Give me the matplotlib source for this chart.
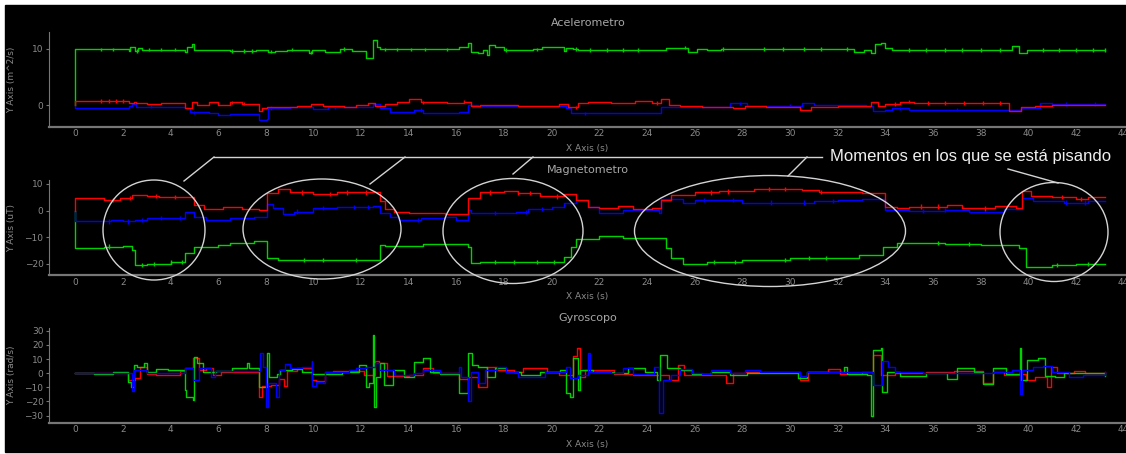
import numpy as np
import matplotlib.pyplot as plt
from matplotlib.patches import Ellipse, Rectangle
from matplotlib.lines import Line2D

# ----------------------
# datos (t [s], valor) -- escalones
# ----------------------
acc_green = [(0, 0), (0, 9.9), (2.24, 9.65), (2.3, 10.35), (2.5, 9.65), (2.65, 10.1), (2.8, 9.85),
             (4.6, 9.5), (4.7, 10.3), (4.9, 10.9), (5.0, 9.8), (6.5, 9.65), (7.6, 9.8), (8.1, 9.5),
             (8.4, 9.65), (8.9, 9.85), (9.8, 9.3), (9.95, 9.75), (10.3, 9.85), (10.5, 9.4), (11.1, 9.95),
             (11.6, 9.7), (12.2, 8.45), (12.5, 11.5), (12.65, 10.35), (12.8, 9.9), (16.1, 10.35),
             (16.5, 11.0), (16.6, 9.5), (16.9, 9.2), (17.1, 9.8), (17.3, 8.9), (17.35, 10.6),
             (17.6, 10.35), (18.0, 9.8), (19.2, 9.9), (19.6, 10.35), (20.5, 9.6), (20.6, 10.2),
             (20.9, 10.0), (21.1, 9.8), (24.6, 9.85), (24.8, 10.2), (25.7, 9.5), (26.1, 9.9),
             (26.5, 9.8), (27.1, 10.0), (32.7, 9.5), (33.1, 9.85), (33.4, 9.2), (33.55, 10.8),
             (33.8, 11.0), (34.0, 10.1), (34.3, 9.8), (39.1, 9.85), (39.3, 10.5), (39.6, 9.35),
             (39.95, 9.8), (43.2, 9.8)]
acc_red = [(0, 0), (0, 0.7), (2.24, 0.4), (2.45, 0.6), (2.55, 0.3), (3.0, 0.2), (3.6, 0.4), (4.6, -0.6),
           (4.9, 0.6), (5.1, 0.1), (5.6, 0.5), (6.0, 0.1), (6.5, 0.5), (7.0, 0.25), (7.7, -1.0),
           (7.85, -0.6), (8.05, -0.4), (8.5, -0.3), (9.3, -0.1), (9.9, 0.2), (10.4, -0.2), (10.9, -0.1),
           (11.3, -0.3), (11.8, 0.1), (12.3, 0.4), (12.6, -0.2), (13.0, 0.2), (13.5, 0.5), (14.0, 1.0),
           (14.5, 0.5), (15.0, 0.6), (15.6, 0.3), (16.3, 0.6), (16.6, -0.1), (17.0, 0.1), (17.6, 0.0),
           (18.6, -0.1), (20.3, 0.2), (20.7, -0.4), (21.1, 0.3), (21.5, 0.6), (22.5, 0.4), (23.5, 0.8),
           (24.2, 0.4), (24.6, 1.0), (24.9, 0.0), (25.4, -0.2), (26.3, -0.3), (27.6, -0.6), (28.1, -0.2),
           (29.0, -0.3), (30.4, -0.8), (30.9, -0.3), (32.0, -0.2), (33.0, -0.2), (33.4, 0.6),
           (33.7, -0.2), (34.0, 0.2), (34.6, 0.6), (35.2, 0.3), (35.5, 0.4), (39.2, -1.0), (39.7, -0.4),
           (40.3, -0.2), (41.0, 0.0), (41.8, 0.1), (43.2, 0.1)]
acc_blue = [(0, 0), (0, -0.5), (2.24, -0.2), (2.4, 0.2), (2.55, -0.3), (4.6, -0.5), (4.8, -1.3),
            (5.6, -1.5), (6.0, -1.8), (6.5, -1.6), (7.7, -2.6), (8.05, -2.4), (8.1, -0.5), (9.0, -0.3),
            (10.0, -0.7), (10.6, -0.4), (11.6, -0.3), (12.5, 0.2), (12.8, -0.6), (13.2, -1.2),
            (14.2, -0.9), (14.6, -1.35), (16.1, -1.2), (16.5, 0.0), (16.9, -0.2), (20.6, -0.6),
            (20.8, -1.5), (21.5, -1.4), (24.6, -0.3), (26.0, -0.3), (27.5, 0.3), (28.2, -0.1),
            (30.5, 0.3), (31.0, 0.0), (33.2, -0.2), (33.5, -1.1), (34.0, -0.8), (34.3, -0.6),
            (35.0, -0.8), (39.4, -0.9), (39.7, -0.5), (40.5, 0.4), (41.0, 0.2), (43.2, 0.2)]

mag_red = [(0, 0), (0, 4.9), (1.2, 4.0), (1.9, 4.7), (2.4, 5.9), (3.0, 5.5), (3.5, 5.2), (4.0, 5.0),
           (5.0, 2.2), (5.4, 0.5), (6.2, 1.3), (7.0, 0.5), (7.7, 0.3), (8.05, 6.6), (8.5, 8.1),
           (9.0, 6.8), (10.0, 6.3), (11.0, 6.8), (12.8, 3.5), (13.0, 0.5), (13.4, -0.5), (14.0, -0.8),
           (15.0, -1.0), (15.5, -1.5), (16.5, 4.7), (17.0, 6.8), (18.0, 7.2), (18.6, 6.5), (19.5, 5.3),
           (20.5, 6.2), (21.0, 4.0), (21.5, 1.3), (22.0, 0.8), (22.8, 1.6), (23.4, 0.5), (24.2, 0.8),
           (24.6, 4.0), (25.0, 5.9), (26.0, 6.8), (27.0, 7.2), (28.5, 8.1), (30.5, 7.6), (31.2, 7.0),
           (32.0, 6.8), (33.0, 6.5), (34.0, 1.5), (34.5, 0.8), (35.0, 1.5), (36.6, 2.0), (37.2, 1.0),
           (38.0, 0.8), (38.6, 1.6), (39.5, 1.0), (39.75, 7.5), (40.1, 5.3), (41.0, 5.0), (42.0, 4.2),
           (42.5, 5.2), (43.2, 5.2)]
mag_blue = [(0, 0), (0, -4.1), (1.5, -3.5), (2.0, -4.1), (2.5, -3.5), (3.0, -2.9), (4.6, -0.4),
            (5.0, -2.3), (5.5, -3.5), (6.5, -3.0), (7.5, -2.4), (8.05, 2.4), (8.3, 0.9), (8.7, -1.2),
            (9.2, -0.4), (10.0, 0.9), (11.0, 1.3), (12.5, 1.6), (12.8, -1.0), (13.2, -2.5),
            (13.6, -3.5), (14.5, -3.0), (15.5, -2.5), (16.0, -3.5), (16.5, 0.3), (16.6, -1.0),
            (18.5, -0.5), (19.0, 0.5), (20.0, 1.3), (20.5, 2.8), (21.0, 4.0), (21.5, 1.3), (22.0, -1.0),
            (23.0, 0.3), (24.5, -1.0), (24.6, 4.3), (25.5, 2.8), (26.0, 4.0), (28.0, 3.0), (30.0, 3.0),
            (31.0, 3.6), (32.0, 3.8), (33.0, 4.3), (34.0, 0.3), (35.0, -0.2), (36.5, 0.3), (37.5, -0.4),
            (39.0, 0.5), (39.75, 4.7), (40.2, 3.4), (41.5, 3.0), (42.5, 3.6), (43.2, 3.4)]
mag_green = [(0, 0), (0, -14.2), (1.2, -13.6), (2.0, -13.2), (2.4, -14.8), (2.5, -20.5), (3.0, -20.2),
             (4.0, -19.3), (4.6, -16.1), (5.0, -13.6), (6.0, -12.9), (6.5, -12.3), (7.5, -11.3),
             (8.05, -18.0), (8.5, -18.5), (9.0, -18.6), (12.8, -12.9), (13.0, -13.2), (14.6, -12.5),
             (15.8, -12.8), (16.5, -13.6), (16.6, -19.9), (17.0, -19.3), (18.0, -19.5), (20.0, -19.3),
             (20.5, -17.4), (20.8, -13.6), (21.0, -10.8), (22.0, -9.5), (23.0, -10.4), (24.8, -14.2),
             (25.0, -18.0), (25.5, -20.2), (26.5, -19.5), (28.0, -18.6), (30.0, -18.0), (32.9, -16.6),
             (33.9, -13.6), (34.5, -12.3), (36.5, -12.6), (38.0, -13.0), (39.6, -14.2), (39.9, -21.1),
             (41.0, -20.5), (42.0, -20.2), (43.2, -20.0)]

gyr_blue = [(0, 0), (2.24, 0), (2.4, -12.5), (2.45, 2), (2.8, 2), (3.0, 0), (4.6, 3.5), (4.95, -5),
            (5.2, 3.5), (5.7, -2.4), (5.85, 1.6), (7.76, 14), (7.9, 4.7), (8.0, -24), (8.1, -7),
            (8.43, -16.5), (8.55, 2.4), (8.8, 6.4), (9.0, 3.5), (9.5, 4.7), (9.93, 8.3), (9.95, -9),
            (10.1, -6), (10.4, -6.6), (10.5, 1.2), (11.5, 2.4), (11.8, 4), (12.2, 4.7), (12.6, 7),
            (12.75, 2.4), (13.4, -1), (14.2, 0), (14.6, 2.4), (15.3, 0.5), (16.1, 4.7), (16.2, -2.8),
            (16.5, -20), (16.6, 1.2), (16.9, -7), (17.2, 2.4), (17.7, 4.7), (18.1, 1.2), (18.6, -2.4),
            (19.7, 1.2), (20.6, 4.7), (20.75, -3.5), (21.1, -1), (21.5, 14), (21.6, 1.2), (22.5, 0),
            (23.0, 3.5), (23.4, -0.5), (24.3, 4.7), (24.5, -28), (24.65, -4.7), (25.0, -1), (25.4, 2.8),
            (25.9, 0.5), (26.3, -0.5), (26.7, 2), (27.5, 0), (28.1, 2), (28.75, 1.2), (30.4, -2),
            (30.7, 1.2), (33.5, -8), (33.85, 8.3), (34.1, 4.7), (34.4, 1.2), (35.6, 0), (37.0, 0.5),
            (38.5, 1.2), (39.3, 2.4), (39.65, -15), (39.75, 2.4), (40.2, 4.7), (40.6, 5), (41.0, 1.2),
            (41.7, -2.4), (42.3, -1.2), (43.2, 1.2)]
gyr_red = [(0, 0), (2.2, -4.7), (2.5, -3.5), (2.7, 4.7), (3.0, -0.5), (3.4, -1.2), (4.4, 1.9),
           (4.6, 3.5), (4.96, 11), (5.2, 2.4), (5.5, 4), (5.8, -1), (6.1, 1.2), (7.7, -16.5),
           (7.85, -9), (8.2, -8.5), (8.55, -3.8), (8.75, -9), (8.9, 1.6), (9.3, 3.5), (9.93, -4.7),
           (10.1, -5.4), (10.5, 1.2), (10.8, 1.6), (12.1, -1), (12.6, 8.7), (12.75, 7), (13.1, -2),
           (14.0, -1.2), (14.6, 3.5), (15.0, 0.5), (16.1, -4), (16.5, -2.4), (16.9, -10), (17.3, 4.7),
           (17.7, 2.4), (18.4, 1.2), (18.8, 3.5), (19.8, 1.2), (20.3, -1.2), (20.9, 12), (21.05, 17.7),
           (21.2, -2.4), (21.4, 2.4), (22.6, -0.5), (23.4, -1.2), (24.5, -1.2), (24.9, -4.7), (25.3, 6),
           (25.55, -1), (27.3, -7), (27.6, 0), (28.1, 1.2), (30.4, -4.7), (30.75, 1.2), (31.6, 2.8),
           (32.1, -0.5), (33.0, 1.2), (33.5, 13), (33.8, -1), (34.4, 0.5), (35.7, 1.2), (36.9, 1.6),
           (38.1, -7), (38.5, 1.2), (39.0, -1.2), (39.6, -0.5), (39.9, -4.7), (40.3, -2.4), (40.8, -9.5),
           (40.95, 4.7), (41.2, 0.5), (41.9, 1.9), (42.4, 0), (43.2, 1.2)]
gyr_green = [(0, 0), (0.8, -0.5), (1.6, 0.7), (2.2, -6), (2.35, -9.5), (2.45, 6), (2.6, 4.7),
             (2.87, 7), (3.0, 1.2), (3.4, 2.8), (3.9, 2), (4.6, -12), (4.65, -16.5), (4.96, -19),
             (4.98, 11.8), (5.1, 7), (5.35, 1.2), (5.9, 1.6), (6.6, 3.5), (7.2, 7), (7.3, 3.5),
             (7.7, -9.5), (8.04, 14), (8.15, -2.4), (8.45, -0.5), (8.6, 2.4), (9.1, 2.8), (9.5, 1.2),
             (9.93, -0.5), (10.9, -0.5), (11.2, 1.2), (11.9, 6), (12.2, -9.5), (12.35, -7), (12.5, 27),
             (12.52, -24), (12.62, -2.4), (12.8, 7), (12.95, -8), (13.35, 2), (13.8, -2.4), (14.2, 8),
             (14.6, 10.6), (14.9, 1.2), (15.3, -0.5), (16.1, -14), (16.5, 14), (16.65, 6), (16.9, 4.7),
             (17.3, -2.4), (17.6, 3.5), (18.1, 1.2), (18.7, -1.2), (19.5, 1.2), (20.35, 2.4),
             (20.6, -14), (20.75, -16.5), (20.9, 10.6), (21.1, -12), (21.2, 2.4), (21.75, 1.2),
             (22.6, 0), (23.2, 3.5), (23.9, 1.2), (24.4, -4.7), (24.55, 13), (24.85, 3.5), (25.4, 2.4),
             (25.9, -0.5), (26.7, 1.2), (27.5, -1.2), (28.2, 0), (30.35, -3.5), (30.7, 1.2),
             (32.25, 4.7), (32.4, -0.5), (33.25, -1.2), (33.4, -30), (33.5, 16.5), (33.8, 18),
             (33.85, -13), (34.05, 1.2), (34.6, -1.9), (35.7, 0), (36.6, -4.3), (37.0, 3.5), (37.7, 1.2),
             (38.1, -7.6), (38.5, 3.5), (39.05, -0.5), (39.65, 17.7), (39.7, -4.7), (39.95, 9.5),
             (40.4, 10.6), (40.7, -1.9), (41.1, -2.8), (41.5, 0), (43.2, -1.9)]

# marcas cortas (muestras sueltas) sobre las lineas
acc_green_ticks = [1.1, 1.6, 2.6, 3.1, 3.6, 4.2, 6.6, 7.1, 7.4, 8.2, 9.1, 9.9, 11.3, 13.0, 13.5, 14.1,
                   14.7, 15.6, 18.1, 19.4, 21.0, 21.6, 22.3, 23.0, 23.6, 25.6, 27.2, 28.9, 29.7, 30.6,
                   31.3, 32.4, 35.0, 35.7, 36.5, 37.2, 38.0, 38.8, 40.6, 41.3, 42.0, 42.7, 43.2]
acc_red_ticks = [1.1, 1.4, 1.7, 2.0, 6.6, 7.1, 14.6, 16.3, 21.0, 24.4, 34.4, 35.0, 35.8, 36.5, 37.3,
                 38.1, 38.8]
acc_blue_ticks = [3.2, 5.0, 8.2, 10.9, 14.5, 21.4, 27.9, 30.0, 34.6, 37.0, 41.6, 42.8]
mag_red_ticks = [1.6, 2.3, 3.4, 4.2, 9.5, 10.7, 11.4, 12.2, 17.4, 18.6, 19.1, 20.2, 26.7, 27.4, 29.1,
                 29.8, 31.3, 35.5, 36.2, 38.2, 41.4, 42.2]
mag_blue_ticks = [1.4, 2.2, 2.8, 3.6, 4.4, 9.3, 10.4, 11.7, 12.3, 14.4, 17.6, 18.9, 19.6, 26.4, 27.6,
                  29.2, 30.6, 31.8, 35.6, 36.5, 41.6, 42.4]
mag_green_ticks = [1.4, 2.8, 3.3, 4.0, 4.5, 9.6, 10.4, 11.8, 17.6, 18.4, 19.4, 20.1, 26.8, 27.7, 29.8,
                   30.8, 31.5, 36.2, 37.5, 41.2, 42.5]

titles = ["Acelerometro", "Magnetometro", "Gyroscopo"]
ylabels = ["Y Axis (m^2/s)", "Y Axis (uT)", "Y Axis (rad/s)"]
xlabel = "X Axis (s)"
nota = "Momentos en los que se está pisando"

RED, GREEN, BLUE = "#ff0000", "#00d200", "#0000ff"
GRAY = "#8a8a8a"

# ----------------------
# figura
# ----------------------
W, H = 1126, 454
fig = plt.figure(figsize=(W / 100, H / 100), dpi=100, facecolor="white")
fig.add_artist(Rectangle((5 / W, 2 / H), 1, (H - 7) / H, transform=fig.transFigure,
                         color="black", zorder=-5))


def box(x0, ytop, x1, ybot):
    return [x0 / W, 1 - ybot / H, (x1 - x0) / W, (ybot - ytop) / H]


def step(ax, pts, color, ticks=None, amp=0.3):
    t, v = np.array(pts, dtype=float).T
    ax.step(t, v, where="post", color=color, lw=1.0)
    if ticks is not None:
        idx = np.searchsorted(t, ticks, side="right") - 1
        ax.vlines(ticks, v[idx] - amp, v[idx] + amp, color=color, lw=1.0)


def style(ax, ylim, yticks, title, ylabel, ytop):
    ax.set_facecolor("black")
    ax.set_xlim(-1.1, 44.1)
    ax.set_ylim(*ylim)
    ax.set_xticks(range(0, 45, 2))
    ax.set_xticks([0, 20, 40], minor=True)
    ax.set_yticks(yticks)
    for s in ["top", "right"]:
        ax.spines[s].set_visible(False)
    ax.spines["left"].set_color("#767676")
    ax.spines["bottom"].set_color("#767676")
    ax.spines["bottom"].set_linewidth(1.6)
    ax.tick_params(axis="x", which="major", length=0, pad=2, labelsize=6.5, labelcolor=GRAY)
    ax.tick_params(axis="x", which="minor", direction="in", length=4, color="#9a9a9a")
    ax.tick_params(axis="y", length=2, pad=2, labelsize=6.5, labelcolor=GRAY, color="#767676")
    ax.set_xlabel(xlabel, color=GRAY, fontsize=6.5, labelpad=4)
    ax.set_ylabel(ylabel, color=GRAY, fontsize=6.5)
    ax.yaxis.set_label_coords(-33 / 1077, 0.5)
    fig.text(588 / W, 1 - ytop / H, title, ha="center", va="center", color="#a8a8a8", fontsize=8)


ax1 = fig.add_axes(box(49, 32, 1126, 126.7))
step(ax1, acc_green, GREEN, acc_green_ticks, 0.3)
step(ax1, acc_blue, BLUE, acc_blue_ticks, 0.3)
step(ax1, acc_red, RED, acc_red_ticks, 0.3)
style(ax1, (-3.85, 13.0), [0, 10], titles[0], ylabels[0], 23)

ax2 = fig.add_axes(box(49, 180, 1126, 275))
step(ax2, mag_green, GREEN, mag_green_ticks, 0.8)
step(ax2, mag_blue, BLUE, mag_blue_ticks, 0.8)
step(ax2, mag_red, RED, mag_red_ticks, 0.8)
style(ax2, (-24.3, 11.5), [-20, -10, 0, 10], titles[1], ylabels[1], 170)

ax3 = fig.add_axes(box(49, 328, 1126, 422.7))
step(ax3, gyr_red, RED)
step(ax3, gyr_green, GREEN)
step(ax3, gyr_blue, BLUE)
style(ax3, (-35, 32), [-30, -20, -10, 0, 10, 20, 30], titles[2], ylabels[2], 318)

# ----------------------
# anotacion: elipses + lineas + texto (en pixeles de la imagen)
# ----------------------
ANN = "#d4d4d4"
elipses = [(154, 230, 102, 100), (322, 229, 158, 100), (513, 231, 140, 105),
           (770, 231, 271, 111), (1054, 232, 108, 99)]
for cx, cy, w, h in elipses:
    fig.add_artist(Ellipse((cx / W, 1 - cy / H), w / W, h / H, transform=fig.transFigure,
                           fill=False, ec=ANN, lw=1.0, zorder=5))

segmentos = [((214, 157), (822, 157)), ((214, 157), (184, 181)), ((405, 157), (370, 184)),
             ((533, 157), (513, 174)), ((807, 157), (788, 176)), ((1008, 169), (1058, 183))]
for (xa, ya), (xb, yb) in segmentos:
    fig.add_artist(Line2D([xa / W, xb / W], [1 - ya / H, 1 - yb / H], transform=fig.transFigure,
                          color=ANN, lw=1.0, zorder=5))

fig.text(830 / W, 1 - 157 / H, nota, ha="left", va="center", color="#f0f0f0", fontsize=12,
         family="Liberation Sans")

fig.savefig("out.png", dpi=100, facecolor=fig.get_facecolor())
